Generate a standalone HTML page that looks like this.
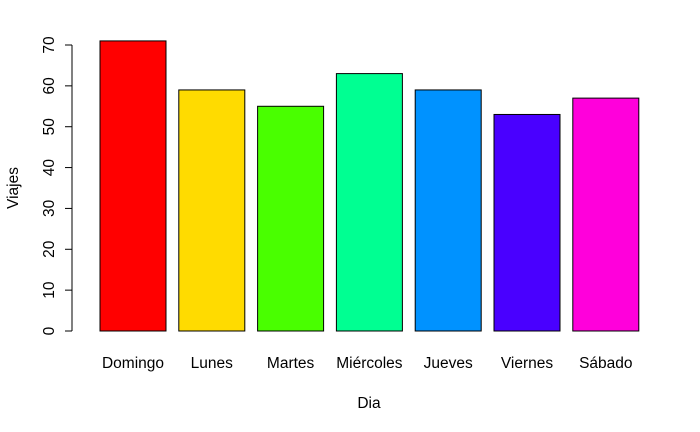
<!DOCTYPE html>
<html><head><meta charset="utf-8"><style>body{margin:0;background:#fff}svg{display:block;font-family:"Liberation Sans",Arial,sans-serif}</style></head>
<body>
<svg id="chart" width="700" height="432" xmlns="http://www.w3.org/2000/svg">
<g id="bars"></g>
<g id="yaxis"></g>
<g id="xlabels"></g>
<text x="369" y="408" font-size="15.5" text-anchor="middle">Dia</text>
<text transform="translate(18,188) rotate(-90)" font-size="15.5" text-anchor="middle">Viajes</text>
</svg>
<script>
const categories = ["Domingo","Lunes","Martes","Miércoles","Jueves","Viernes","Sábado"];
const values = [71,59,55,63,59,53,57];
const colors = ["#FF0000","#FFDB00","#49FF00","#00FF92","#0092FF","#4900FF","#FF00DB"];
const yTicks = [0,10,20,30,40,50,60,70];
const NS = "http://www.w3.org/2000/svg";
const y = v => 331 - v * (286/70);
const xLeft = i => 100 + i * 78.8;
const bw = 66;
const bars = document.getElementById('bars');
const xl = document.getElementById('xlabels');
categories.forEach((c,i)=>{
  const r = document.createElementNS(NS,'rect');
  r.setAttribute('x', xLeft(i)); r.setAttribute('y', y(values[i]));
  r.setAttribute('width', bw); r.setAttribute('height', y(0)-y(values[i]));
  r.setAttribute('fill', colors[i]); r.setAttribute('stroke', '#000'); r.setAttribute('stroke-width','1');
  
  
  bars.appendChild(r);
  const t = document.createElementNS(NS,'text');
  t.setAttribute('x', xLeft(i)+bw/2); t.setAttribute('y', 368);
  t.setAttribute('font-size','15.5'); t.setAttribute('text-anchor','middle');
  t.textContent = c;
  
  
  xl.appendChild(t);
});
const ya = document.getElementById('yaxis');
const line = document.createElementNS(NS,'line');
line.setAttribute('x1',72);line.setAttribute('x2',72);line.setAttribute('y1',y(yTicks[yTicks.length-1]));line.setAttribute('y2',y(yTicks[0]));
line.setAttribute('stroke','#000');


ya.appendChild(line);
yTicks.forEach(v=>{
  const tk = document.createElementNS(NS,'line');
  tk.setAttribute('x1',65);tk.setAttribute('x2',72);tk.setAttribute('y1',y(v));tk.setAttribute('y2',y(v));tk.setAttribute('stroke','#000');
  
  
  ya.appendChild(tk);
  const t = document.createElementNS(NS,'text');
  t.setAttribute('transform','translate(54,'+y(v)+') rotate(-90)');
  t.setAttribute('font-size','15.5'); t.setAttribute('text-anchor','middle');
  t.textContent = v;
  
  
  ya.appendChild(t);
});
</script>
</body></html>
